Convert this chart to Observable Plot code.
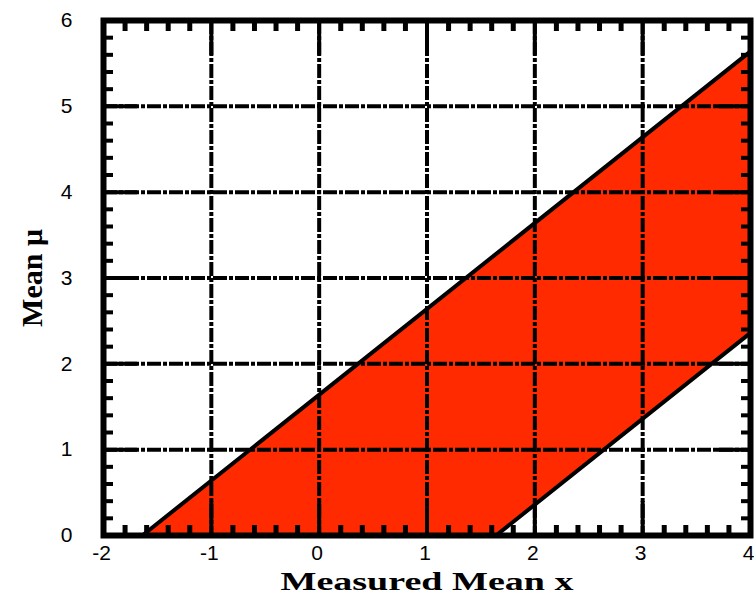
<!DOCTYPE html>
<html>
<head>
<meta charset="utf-8">
<script src="https://cdn.jsdelivr.net/npm/d3@7"></script>
<script src="https://cdn.jsdelivr.net/npm/@observablehq/plot@0.6"></script>
<style>
  html, body { margin: 0; padding: 0; background: #fff; }
</style>
</head>
<body>
<div id="chart"></div>
<script>
// Band boundaries
const bandX     = [-1.64, 1.64, 4];
const bandLower = [0, 0, 2.36];
const bandUpper = [0, 3.28, 5.64];

const upperX = [-1.64, 4];
const upperY = [0, 5.64];
const lowerX = [1.64, 4];
const lowerY = [0, 2.36];

// Tick positions / labels
const xMajor = [-2, -1, 0, 1, 2, 3, 4];
const yMajor = [0, 1, 2, 3, 4, 5, 6];
const xGrid = [-1, 0, 1, 2, 3];
const yGrid = [1, 2, 3, 4, 5];
const xMinor = [-1.8,-1.6,-1.4,-1.2,-0.8,-0.6,-0.4,-0.2,0.2,0.4,0.6,0.8,1.2,1.4,1.6,1.8,2.2,2.4,2.6,2.8,3.2,3.4,3.6,3.8];
const yMinor = [0.2,0.4,0.6,0.8,1.2,1.4,1.6,1.8,2.2,2.4,2.6,2.8,3.2,3.4,3.6,3.8,4.2,4.4,4.6,4.8,5.2,5.4,5.6,5.8];

const xTitle = "Measured Mean x";
const yTitle = "Mean \u03bc";

const band = bandX.map((x, i) => ({x, lo: bandLower[i], hi: bandUpper[i]}));
const upper = upperX.map((x, i) => ({x, y: upperY[i]}));
const lower = lowerX.map((x, i) => ({x, y: lowerY[i]}));

const red = "#ff2a00";
const dash = "14,2,4,2";
const fmt = d => d < 0 ? "-" + Math.abs(d) : String(d);

const chart = Plot.plot({
  width: 754,
  height: 599,
  marginLeft: 103,
  marginRight: 4,
  marginTop: 20,
  marginBottom: 64,
  style: {fontFamily: "Liberation Sans", fontSize: "22px", background: "white", overflow: "visible"},
  x: {domain: [-2, 4]},
  y: {domain: [0, 6]},
  marks: [
    Plot.areaY(band, {x: "x", y1: "lo", y2: "hi", fill: red}),
    Plot.ruleX(xGrid, {stroke: "black", strokeWidth: 4, strokeDasharray: dash}),
    Plot.ruleY(yGrid, {stroke: "black", strokeWidth: 4, strokeDasharray: dash}),
    // minor inward ticks on all sides
    Plot.axisX(xMinor, {anchor: "bottom", tickSize: -10, strokeWidth: 5, fill: "none", label: null}),
    Plot.axisX(xMinor, {anchor: "top", tickSize: -10, strokeWidth: 5, fill: "none", label: null}),
    Plot.axisY(yMinor, {anchor: "left", tickSize: -10, strokeWidth: 4, fill: "none", label: null}),
    Plot.axisY(yMinor, {anchor: "right", tickSize: -10, strokeWidth: 4, fill: "none", label: null}),
    // major inward ticks
    Plot.axisX(xMajor, {anchor: "bottom", tickSize: -34, strokeWidth: 4, fill: "none", label: null}),
    Plot.axisX(xMajor, {anchor: "top", tickSize: -34, strokeWidth: 4, fill: "none", label: null}),
    Plot.axisY(yMajor, {anchor: "left", tickSize: -34, strokeWidth: 4, fill: "none", label: null}),
    Plot.axisY(yMajor, {anchor: "right", tickSize: -34, strokeWidth: 4, fill: "none", label: null}),
    // boundary lines
    Plot.line(upper, {x: "x", y: "y", stroke: "black", strokeWidth: 4}),
    Plot.line(lower, {x: "x", y: "y", stroke: "black", strokeWidth: 4}),
    Plot.frame({stroke: "black", strokeWidth: 6}),
    // tick labels
    Plot.axisX(xMajor, {anchor: "bottom", tickSize: 0, tickPadding: 10, dx: -2, stroke: "none", fill: "black", label: null, fontSize: 21, tickFormat: fmt}),
    Plot.axisY(yMajor, {anchor: "left", tickSize: 0, tickPadding: 31, stroke: "none", fill: "black", label: null, fontSize: 21, tickFormat: fmt}),
    // titles
    Plot.text([xTitle], {frameAnchor: "bottom", dy: 54, text: d => d, fontFamily: "Liberation Serif", fontWeight: "bold", fontSize: 26, fill: "black", className: "xtitle"}),
    Plot.text([yTitle], {frameAnchor: "left", textAnchor: "middle", dx: -71, rotate: -90, text: d => d, fontFamily: "Liberation Serif", fontWeight: "bold", fontSize: 30, fill: "black"})
  ]
});

document.getElementById("chart").appendChild(chart);
const xt = chart.querySelector(".xtitle text");
if (xt) {
  xt.setAttribute("textLength", 293);
  xt.setAttribute("lengthAdjust", "spacingAndGlyphs");
}
</script>
</body>
</html>
